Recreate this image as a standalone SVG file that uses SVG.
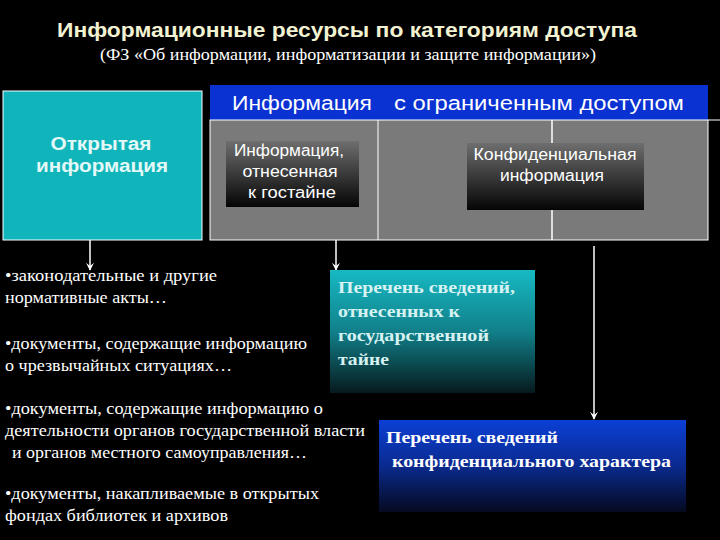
<svg xmlns="http://www.w3.org/2000/svg" width="720" height="540" viewBox="0 0 720 540">
<defs>
<linearGradient id="gDark" x1="0" y1="0" x2="0" y2="1"><stop offset="0" stop-color="#6e6e6e"/><stop offset="1" stop-color="#050505"/></linearGradient>
<linearGradient id="gCyan" x1="0" y1="0" x2="0" y2="1"><stop offset="0" stop-color="#17b9c3"/><stop offset="0.5" stop-color="#11808a"/><stop offset="1" stop-color="#061a1e"/></linearGradient>
<linearGradient id="gBlue" x1="0" y1="0" x2="0" y2="1"><stop offset="0" stop-color="#0b3fd6"/><stop offset="0.5" stop-color="#0a2a8e"/><stop offset="1" stop-color="#050a20"/></linearGradient>
<marker id="ah" viewBox="0 0 10 10" refX="9" refY="5" markerWidth="8" markerHeight="8" orient="auto" markerUnits="userSpaceOnUse"><path d="M0,0 L10,5 L0,10 L4,5 z" fill="#ffffff"/></marker>
<style>
.sans{font-family:"Liberation Sans","DejaVu Sans",sans-serif}
.serif{font-family:"Liberation Serif","DejaVu Serif",serif}
.list{font-family:"Liberation Serif",serif;font-size:16px;fill:#ffffff}
.bold{font-family:"Liberation Serif",serif;font-size:17px;font-weight:bold}
.in{font-family:"Liberation Sans",sans-serif;font-size:16px;fill:#ffffff;text-anchor:middle}
.conn{stroke:#ffffff;stroke-width:1.5;fill:none}
</style>
</defs>
<rect width="720" height="540" fill="#000000"/>
<g id="title">
<text x="347" y="37" class="sans" font-size="21" font-weight="bold" fill="#f2f2d2" text-anchor="middle" textLength="580" lengthAdjust="spacingAndGlyphs">Информационные ресурсы по категориям доступа</text>
<text x="348" y="60" class="serif" font-size="16" fill="#ffffff" text-anchor="middle" textLength="496" lengthAdjust="spacingAndGlyphs">(ФЗ «Об информации, информатизации и защите информации»)</text>
</g>
<g id="open">
<rect x="3" y="91" width="199" height="149" fill="#0fb5ba" stroke="#ffffff" stroke-width="1"/>
<text x="101" y="150" class="sans" font-size="18" font-weight="bold" fill="#e4f8f8" text-anchor="middle" textLength="101" lengthAdjust="spacingAndGlyphs">Открытая</text>
<text x="102" y="172" class="sans" font-size="18" font-weight="bold" fill="#e4f8f8" text-anchor="middle" textLength="132" lengthAdjust="spacingAndGlyphs">информация</text>
</g>
<g id="restricted">
<rect x="210" y="85" width="498" height="35" fill="#0a32d2"/>
<rect x="210" y="120" width="498" height="120" fill="#7a7a7a" stroke="#ffffff" stroke-width="1"/>
<line x1="708" y1="120" x2="720" y2="120" stroke="#ffffff" stroke-width="1"/>
<line x1="378" y1="120" x2="378" y2="240" stroke="#ffffff" stroke-width="1"/>
<text x="232" y="110" class="sans" font-size="20" fill="#ffffff" textLength="140" lengthAdjust="spacingAndGlyphs">Информация</text>
<text x="394" y="110" class="sans" font-size="20" fill="#ffffff" textLength="290" lengthAdjust="spacingAndGlyphs">с ограниченным доступом</text>
</g>
<g id="connectors">
<line class="conn" x1="552" y1="120" x2="552" y2="143"/>
<line class="conn" x1="552" y1="210" x2="552" y2="240"/>
<line class="conn" x1="90" y1="240" x2="90" y2="270" marker-end="url(#ah)"/>
<line class="conn" x1="336" y1="240" x2="336" y2="270" marker-end="url(#ah)"/>
<line class="conn" x1="594" y1="246" x2="594" y2="419" marker-end="url(#ah)"/>
</g>
<g id="gostayne">
<rect x="226" y="141" width="133" height="66" fill="url(#gDark)"/>
<text x="289" y="156" class="in" textLength="110" lengthAdjust="spacingAndGlyphs">Информация,</text>
<text x="290" y="177" class="in" textLength="95" lengthAdjust="spacingAndGlyphs">отнесенная</text>
<text x="292" y="198" class="in" textLength="88" lengthAdjust="spacingAndGlyphs">к гостайне</text>
</g>
<g id="konf">
<rect x="467" y="143" width="177" height="67" fill="url(#gDark)"/>
<text x="555" y="160" class="in" textLength="163" lengthAdjust="spacingAndGlyphs">Конфиденциальная</text>
<text x="552" y="181" class="in" textLength="104" lengthAdjust="spacingAndGlyphs">информация</text>
</g>
<g id="list-open">
<text x="5" y="281" class="list" textLength="212" lengthAdjust="spacingAndGlyphs">•законодательные и другие</text>
<text x="5" y="303" class="list" textLength="162" lengthAdjust="spacingAndGlyphs">нормативные акты…</text>
<text x="5" y="349" class="list" textLength="302" lengthAdjust="spacingAndGlyphs">•документы, содержащие информацию</text>
<text x="5" y="371" class="list" textLength="227" lengthAdjust="spacingAndGlyphs">о чрезвычайных ситуациях…</text>
<text x="5" y="414" class="list" textLength="318" lengthAdjust="spacingAndGlyphs">•документы, содержащие информацию о</text>
<text x="5" y="436" class="list" textLength="360" lengthAdjust="spacingAndGlyphs">деятельности органов государственной власти</text>
<text x="12" y="458" class="list" textLength="295" lengthAdjust="spacingAndGlyphs">и органов местного самоуправления…</text>
<text x="5" y="499" class="list" textLength="314" lengthAdjust="spacingAndGlyphs">•документы, накапливаемые в открытых</text>
<text x="5" y="521" class="list" textLength="223" lengthAdjust="spacingAndGlyphs">фондах библиотек и архивов</text>
</g>
<g id="list-secret">
<rect x="330" y="270" width="205" height="123" fill="url(#gCyan)"/>
<text x="338" y="293" class="bold" fill="#d6f2f2" textLength="177" lengthAdjust="spacingAndGlyphs">Перечень сведений,</text>
<text x="338" y="317" class="bold" fill="#d6f2f2" textLength="122" lengthAdjust="spacingAndGlyphs">отнесенных к</text>
<text x="338" y="341" class="bold" fill="#d6f2f2" textLength="151" lengthAdjust="spacingAndGlyphs">государственной</text>
<text x="338" y="365" class="bold" fill="#d6f2f2" textLength="51" lengthAdjust="spacingAndGlyphs">тайне</text>
</g>
<g id="list-konf">
<rect x="379" y="420" width="307" height="92" fill="url(#gBlue)"/>
<text x="386" y="443" class="bold" fill="#ffffff" textLength="172" lengthAdjust="spacingAndGlyphs">Перечень сведений</text>
<text x="392" y="467" class="bold" fill="#ffffff" textLength="279" lengthAdjust="spacingAndGlyphs">конфиденциального характера</text>
</g>
</svg>
